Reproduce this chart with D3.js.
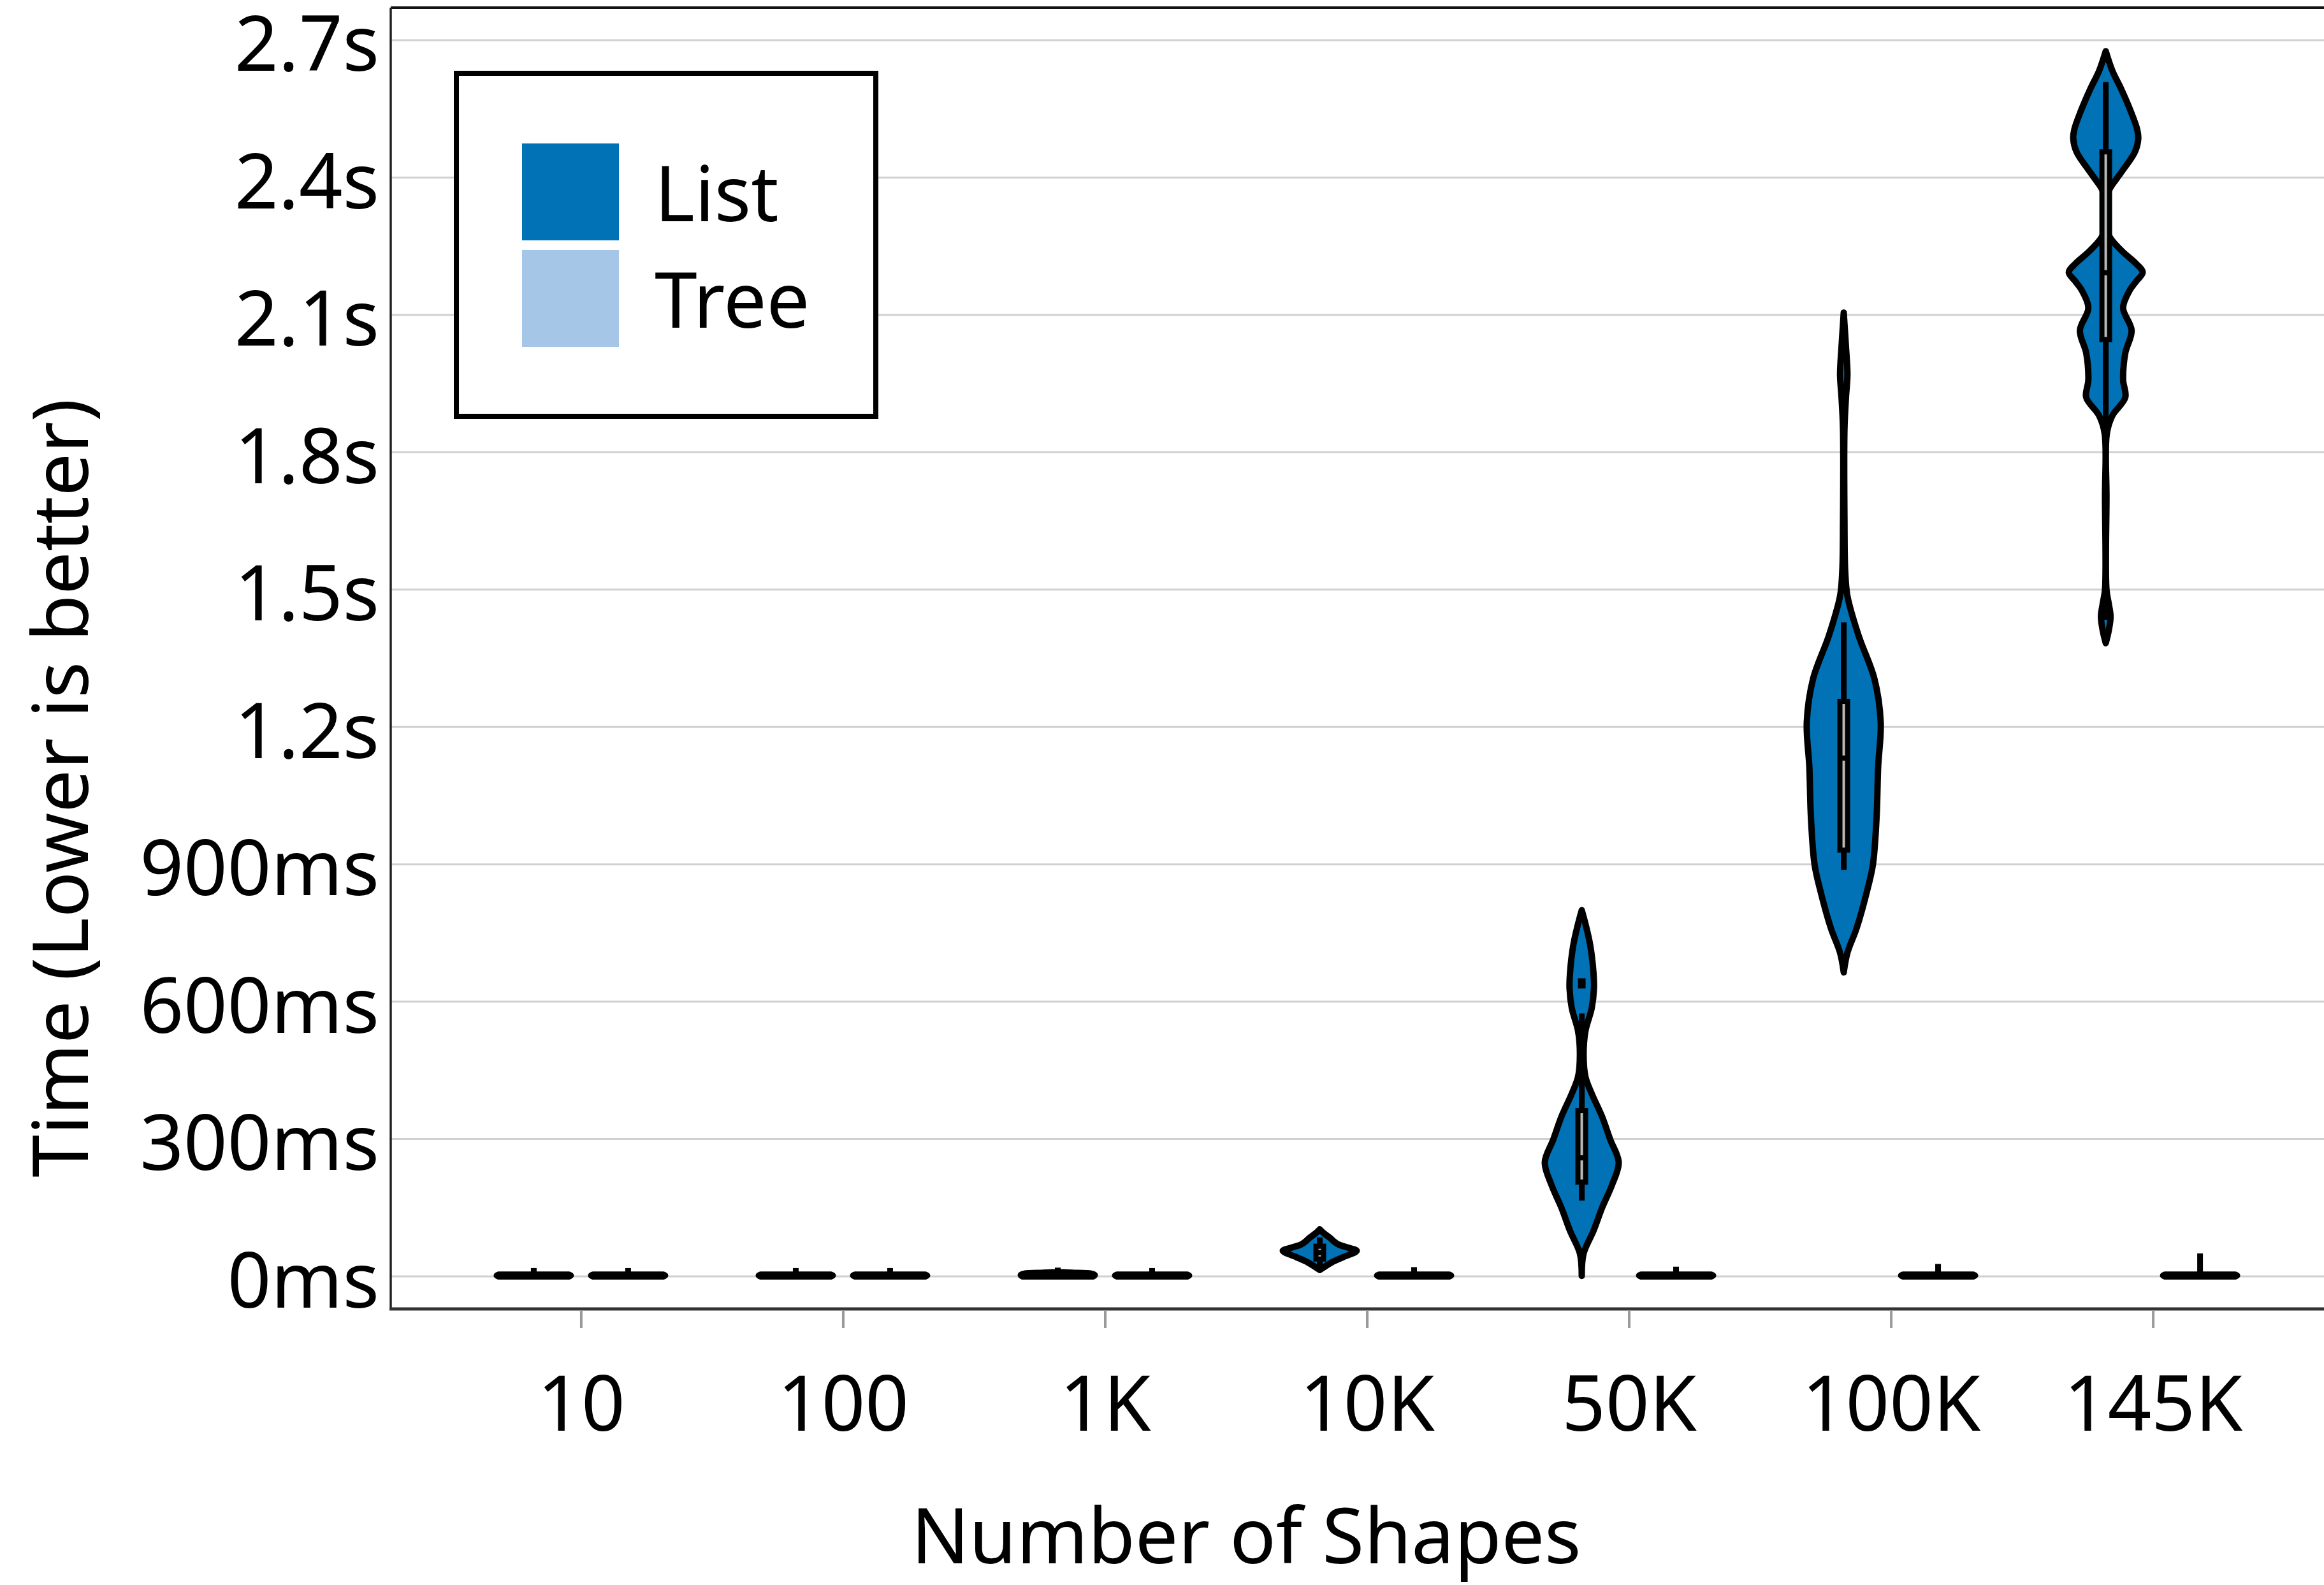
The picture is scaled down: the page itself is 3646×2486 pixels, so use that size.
<!DOCTYPE html>
<html>
<head>
<meta charset="utf-8">
<script src="https://cdn.jsdelivr.net/npm/d3@7"></script>
<style>
  html, body { margin: 0; padding: 0; background: #fff; }
  svg { display: block; }
  text { font-family: "Noto Sans", sans-serif; fill: #000; }
</style>
</head>
<body>
<svg id="chart" width="3646" height="2486"></svg>
<script>
// ---- data ----------------------------------------------------------
const categories = ["10", "100", "1K", "10K", "50K", "100K", "145K"];
const seriesNames = ["List", "Tree"];
const seriesColors = ["#0072B5", "#A6C6E8"];
const yTicks = [0, 300, 600, 900, 1200, 1500, 1800, 2100, 2400, 2700];
const yTickLabels = ["0ms", "300ms", "600ms", "900ms", "1.2s", "1.5s", "1.8s", "2.1s", "2.4s", "2.7s"];

// violin outlines per category: [time in ms, relative half-width 0..1]
const listDensity = [
  [[0, 0.95], [2, 1], [4, 0.95]],
  [[0, 0.95], [2, 1], [4, 0.95]],
  [[0, 0.95], [3, 1], [6, 0.9], [8, 0.4], [9, 0.15]],
  [[14, 0], [31, 0.33], [42, 0.63], [56, 1], [63, 0.76], [70, 0.5], [78, 0.36], [84, 0.28],
   [95, 0.1], [103, 0]],
  [[1, 0], [50, 0.05], [100, 0.32], [150, 0.55], [200, 0.82], [249, 1], [299, 0.77], [349, 0.55],
   [399, 0.27], [436, 0.1], [486, 0.05], [536, 0.1], [586, 0.27], [629, 0.33], [660, 0.32],
   [723, 0.23], [770, 0.1], [800, 0]],
  [[664, 0], [707, 0.1], [761, 0.35], [845, 0.64], [900, 0.79], [1006, 0.89], [1112, 0.93],
   [1210, 1], [1305, 0.83], [1400, 0.4], [1486, 0.1], [1540, 0.04], [1650, 0.02], [1850, 0.02],
   [1920, 0.06], [1970, 0.1], [2030, 0.06], [2105, 0]],
  [[1383, 0], [1410, 0.08], [1441, 0.13], [1470, 0.08], [1500, 0.02], [1700, 0.02], [1841, 0.03],
   [1880, 0.18], [1920, 0.53], [1958, 0.47], [2017, 0.53], [2066, 0.7], [2115, 0.47], [2154, 0.65],
   [2173, 0.82], [2193, 1], [2212, 0.82], [2241, 0.42], [2275, 0.08], [2320, 0.06], [2368, 0.07],
   [2398, 0.3], [2417, 0.47], [2456, 0.79], [2485, 0.88], [2505, 0.85], [2544, 0.68], [2593, 0.42],
   [2633, 0.18], [2676, 0]]
];
const treeDensity = [
  [[0, 0.95], [2, 1], [4, 0.95]],
  [[0, 0.95], [2, 1], [4, 0.95]],
  [[0, 0.95], [2, 1], [4, 0.95]],
  [[0, 0.95], [2, 1], [4, 0.95]],
  [[0, 0.95], [2, 1], [4, 0.95]],
  [[0, 0.95], [2, 1], [4, 0.95]],
  [[0, 0.95], [2, 1], [4, 0.95]]
];

// box summaries: [whisker low, Q1, median, Q3, whisker high] in ms
const listBox = [
  [0, 1, 2, 3, 12],
  [0, 1, 2, 3, 12],
  [0, 2, 4, 6, 13],
  [17, 38, 52, 66, 79],
  [172, 206, 259, 362, 568],
  [894, 931, 1132, 1256, 1422],
  [1440, 2046, 2192, 2456, 2602]
];
const treeBox = [
  [0, 1, 2, 3, 12],
  [0, 1, 2, 3, 12],
  [0, 1, 2, 3, 12],
  [0, 1, 2, 3, 14],
  [0, 1, 2, 3, 15],
  [0, 1, 2, 3, 21],
  [0, 1, 2, 3, 44]
];
const listOutliers = [[], [], [], [], [640], [], []];
const treeOutliers = [[], [], [], [], [], [], []];

// ---- layout --------------------------------------------------------
const W = 3646, H = 2486;
const plot = { left: 613, top: 12, right: 3676, bottom: 2053 };
const violinHalfWidth = 58;
const outline = 10;

const svg = d3.select("#chart");

const y = d3.scaleLinear().domain([-71, 2771]).range([plot.bottom, plot.top]);
const x = d3.scalePoint().domain(categories).range([plot.left, plot.right]).padding(0.726);
const dodge = d3.scalePoint().domain(seriesNames).range([-74, 74]);

svg.append("defs").append("clipPath").attr("id", "plotClip")
  .append("rect")
  .attr("x", plot.left).attr("y", plot.top)
  .attr("width", plot.right - plot.left).attr("height", plot.bottom - plot.top);

// horizontal gridlines
svg.append("g").selectAll("line").data(yTicks).join("line")
  .attr("x1", plot.left).attr("x2", plot.right)
  .attr("y1", d => y(d)).attr("y2", d => y(d))
  .attr("stroke", "#d0d0d0").attr("stroke-width", 3);

// violins with embedded box plots
const marks = svg.append("g").attr("clip-path", "url(#plotClip)");
const series = [
  { name: "List", density: listDensity, box: listBox, outliers: listOutliers },
  { name: "Tree", density: treeDensity, box: treeBox, outliers: treeOutliers }
];

series.forEach((s, si) => {
  categories.forEach((cat, ci) => {
    const cx = x(cat) + dodge(s.name);
    const area = d3.area()
      .y(d => y(d[0]))
      .x0(d => cx - d[1] * violinHalfWidth)
      .x1(d => cx + d[1] * violinHalfWidth)
      .curve(d3.curveCatmullRom.alpha(0.5));
    marks.append("path")
      .attr("d", area(s.density[ci]))
      .attr("fill", seriesColors[si])
      .attr("stroke", "#000")
      .attr("stroke-width", outline)
      .attr("stroke-linejoin", "round");

    const [lo, q1, med, q3, hi] = s.box[ci];
    marks.append("line")
      .attr("x1", cx).attr("x2", cx)
      .attr("y1", y(lo)).attr("y2", y(hi))
      .attr("stroke", "#000").attr("stroke-width", 9)
      .attr("stroke-linecap", "square");
    const bw = 12;
    marks.append("rect")
      .attr("x", cx - bw / 2).attr("width", bw)
      .attr("y", y(q3)).attr("height", Math.max(0.5, y(q1) - y(q3)))
      .attr("fill", "#b8bcb8").attr("stroke", "#000").attr("stroke-width", 8);
    marks.append("line")
      .attr("x1", cx - bw / 2).attr("x2", cx + bw / 2)
      .attr("y1", y(med)).attr("y2", y(med))
      .attr("stroke", "#000").attr("stroke-width", 8);
    s.outliers[ci].forEach(v => {
      marks.append("rect")
        .attr("x", cx - 6).attr("y", y(v) - 8).attr("width", 12).attr("height", 16)
        .attr("fill", "#000");
    });
  });
});

// panel border
svg.append("line").attr("x1", plot.left).attr("x2", W).attr("y1", plot.top).attr("y2", plot.top)
  .attr("stroke", "#111").attr("stroke-width", 4);
svg.append("line").attr("x1", plot.left).attr("x2", plot.left).attr("y1", plot.top).attr("y2", plot.bottom)
  .attr("stroke", "#222").attr("stroke-width", 3.5);
svg.append("line").attr("x1", plot.left - 2).attr("x2", W).attr("y1", plot.bottom).attr("y2", plot.bottom)
  .attr("stroke", "#333").attr("stroke-width", 5);

// y axis labels
const yAxis = svg.append("g").attr("transform", `translate(${plot.left},0)`)
  .call(d3.axisLeft(y).tickValues(yTicks).tickFormat((d, i) => yTickLabels[i]).tickSize(0).tickPadding(18));
yAxis.select(".domain").remove();
yAxis.selectAll("text")
  .attr("dy", "0.4em")
  .style("font-family", "'Noto Sans', sans-serif")
  .style("font-size", "120px")
  .attr("fill", "#000");

// x axis
const xAxis = svg.append("g").attr("transform", `translate(0,${plot.bottom + 2})`)
  .call(d3.axisBottom(x).tickSize(28).tickPadding(76));
xAxis.select(".domain").remove();
xAxis.selectAll(".tick line").attr("stroke", "#9a9a9a").attr("stroke-width", 4);
xAxis.selectAll("text")
  .style("font-family", "'Noto Sans', sans-serif")
  .style("font-size", "120px")
  .attr("fill", "#000");

// axis titles
svg.append("text")
  .attr("x", 1955).attr("y", 2452)
  .attr("text-anchor", "middle")
  .style("font-size", "120px")
  .text("Number of Shapes");
svg.append("text")
  .attr("transform", "translate(138,1236) rotate(-90)")
  .attr("text-anchor", "middle")
  .style("font-size", "120px")
  .text("Time (Lower is better)");

// legend
const legend = svg.append("g");
legend.append("rect")
  .attr("x", 716).attr("y", 115).attr("width", 658).attr("height", 538)
  .attr("fill", "#fff").attr("stroke", "#000").attr("stroke-width", 8);
seriesNames.forEach((name, i) => {
  const top = 225 + i * 167;
  legend.append("rect")
    .attr("x", 819).attr("y", top).attr("width", 152).attr("height", 152)
    .attr("fill", seriesColors[i]);
  legend.append("text")
    .attr("x", 1027).attr("y", top + 122)
    .style("font-size", "120px")
    .text(name);
});
</script>
</body>
</html>
